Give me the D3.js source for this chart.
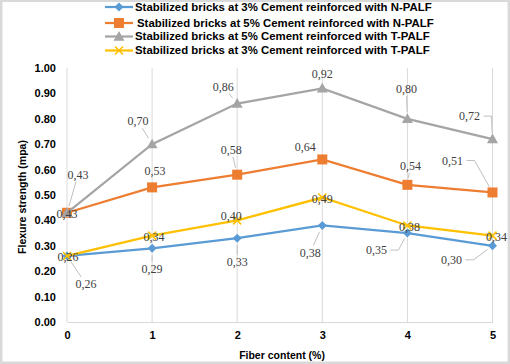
<!DOCTYPE html>
<html>
<head>
<meta charset="utf-8">
<script src="https://cdn.jsdelivr.net/npm/d3@7"></script>
<style>
  body { margin: 0; background: #fff; }
  svg { display: block; }
</style>
</head>
<body>
<div id="chart"></div>
<script>
// ---- data ----
const fiberContent = [0, 1, 2, 3, 4, 5];
const yTicks = [0, 0.1, 0.2, 0.3, 0.4, 0.5, 0.6, 0.7, 0.8, 0.9, 1.0];

const seriesNames = [
    "Stabilized bricks at 3% Cement reinforced with N-PALF",
    "Stabilized bricks at 5% Cement reinforced with N-PALF",
    "Stabilized bricks at 5% Cement reinforced with T-PALF",
    "Stabilized bricks at 3% Cement reinforced with T-PALF"
];
const n3Values = [0.26, 0.29, 0.33, 0.38, 0.35, 0.30];
const n5Values = [0.43, 0.53, 0.58, 0.64, 0.54, 0.51];
const t5Values = [0.43, 0.70, 0.86, 0.92, 0.80, 0.72];
const t3Values = [0.26, 0.34, 0.40, 0.49, 0.38, 0.34];

// ---- styling (label offsets from point, leader type) ----
const colors = ["#5B9BD5", "#ED7D31", "#A5A5A5", "#FFC000"];
const markers = ["diamond", "square", "triangle", "cross"];
const labelOffsets = [
    [[19, 28, "line"], [0, 20, "line"], [0, 24, "line"], [-12, 27, "line"], [-31, 17, "elbow"], [-41, 14, "elbow"]],
    [[0, 1, ""], [3, -17, ""], [-6, -25, "line"], [-17, -13, ""], [3, -19, "line"], [-40, -32, "elbow"]],
    [[11, -38, "line"], [-14, -23, "line"], [-14, -17, "line"], [0, -15, ""], [-1, -30, "line"], [-23, -23, "elbow"]],
    [[1, 1, ""], [2, 1, ""], [-6, -5, ""], [0, 1, ""], [2, 1, ""], [4, 1, ""]]
];

const width = 510, height = 364;
const margin = {top: 68, right: 17, bottom: 42, left: 67};

const svg = d3.select("#chart").append("svg")
    .attr("width", width)
    .attr("height", height);

// outer frame
svg.append("rect")
    .attr("x", 1.2).attr("y", 0.8)
    .attr("width", width - 2.4).attr("height", height - 2)
    .attr("fill", "none")
    .attr("stroke", "#d9d9d9")
    .attr("stroke-width", 2.5);

const x = d3.scaleLinear().domain([0, 5]).range([margin.left, width - margin.right - 0.5]);
const y = d3.scaleLinear().domain([0, 1]).range([height - margin.bottom, margin.top]);

// vertical gridlines
svg.append("g")
    .selectAll("line")
    .data(fiberContent)
    .join("line")
    .attr("x1", d => x(d)).attr("x2", d => x(d))
    .attr("y1", y(1)).attr("y2", y(0))
    .attr("stroke", "#d9d9d9")
    .attr("stroke-width", 1);

// x axis
const xAxis = svg.append("g")
    .attr("transform", `translate(0,${y(0)})`)
    .call(d3.axisBottom(x).tickValues(fiberContent).tickFormat(d3.format("d")).tickSize(0).tickPadding(9));
xAxis.select(".domain").attr("stroke", "#d9d9d9");
xAxis.selectAll("text")
    .attr("font-family", "Liberation Sans, Arial, sans-serif")
    .attr("font-weight", "bold")
    .attr("font-size", 11)
    .attr("fill", "#000");

// y axis
const yAxis = svg.append("g")
    .attr("transform", `translate(${margin.left},0)`)
    .call(d3.axisLeft(y).tickValues(yTicks).tickFormat(d3.format(".2f")).tickSize(0).tickPadding(11));
yAxis.select(".domain").remove();
yAxis.selectAll("text")
    .attr("font-family", "Liberation Sans, Arial, sans-serif")
    .attr("font-weight", "bold")
    .attr("font-size", 11)
    .attr("fill", "#000");

// axis titles
svg.append("text")
    .attr("x", 282).attr("y", 359)
    .attr("text-anchor", "middle")
    .attr("font-family", "Liberation Sans, Arial, sans-serif")
    .attr("font-weight", "bold")
    .attr("font-size", 10.5)
    .text("Fiber content (%)");

svg.append("text")
    .attr("transform", "translate(26,197) rotate(-90)")
    .attr("text-anchor", "middle")
    .attr("font-family", "Liberation Sans, Arial, sans-serif")
    .attr("font-weight", "bold")
    .attr("font-size", 10.5)
    .text("Flexure strength (mpa)");

// marker drawing
function drawMarker(g, type, color, cx, cy, s) {
    if (type === "diamond") {
        g.append("path")
            .attr("d", `M${cx},${cy - s}L${cx + s},${cy}L${cx},${cy + s}L${cx - s},${cy}Z`)
            .attr("fill", color);
    } else if (type === "square") {
        g.append("rect")
            .attr("x", cx - s).attr("y", cy - s)
            .attr("width", 2 * s).attr("height", 2 * s)
            .attr("fill", color);
    } else if (type === "triangle") {
        g.append("path")
            .attr("d", `M${cx},${cy - s}L${cx + s},${cy + s * 0.75}L${cx - s},${cy + s * 0.75}Z`)
            .attr("fill", color);
    } else {
        g.append("path")
            .attr("d", `M${cx - s},${cy - s}L${cx + s},${cy + s}M${cx + s},${cy - s}L${cx - s},${cy + s}`)
            .attr("stroke", color)
            .attr("stroke-width", 1.6);
    }
}
const markerSize = [4.5, 5, 5.5, 4];

const allSeries = [n3Values, n5Values, t5Values, t3Values];
const line = d3.line().x((d, i) => x(fiberContent[i])).y(d => y(d));
const fmt = v => d3.format(".2f")(v).replace(".", ",");

// draw order so grey/orange sit on top like the original
const drawOrder = [0, 3, 1, 2];
const plot = svg.append("g");
drawOrder.forEach(si => {
    const g = plot.append("g");
    g.append("path")
        .datum(allSeries[si])
        .attr("d", line)
        .attr("fill", "none")
        .attr("stroke", colors[si])
        .attr("stroke-width", 2.25);
    allSeries[si].forEach((v, i) => {
        drawMarker(g, markers[si], colors[si], x(fiberContent[i]), y(v), markerSize[si]);
    });
});

// data labels with leader lines
const labelLayer = svg.append("g");
drawOrder.forEach(si => {
    allSeries[si].forEach((v, i) => {
        const px = x(fiberContent[i]), py = y(v);
        const [dx, dy, leader] = labelOffsets[si][i];
        const lx = px + dx, ly = py + dy;
        const hw = 12, hh = 7;
        if (leader === "line") {
            // clip line at label box edge
            const t = Math.min(
                dx !== 0 ? hw / Math.abs(dx) : Infinity,
                dy !== 0 ? hh / Math.abs(dy) : Infinity
            );
            const sx = lx - dx * t, sy = ly - dy * t;
            const len = Math.hypot(dx, dy);
            const ex = px + dx / len * 7, ey = py + dy / len * 7;
            labelLayer.append("line")
                .attr("x1", sx).attr("y1", sy)
                .attr("x2", ex).attr("y2", ey)
                .attr("stroke", "#bfbfbf").attr("stroke-width", 1);
        } else if (leader === "elbow") {
            const sx = lx + hw + 2, kx = lx + hw + 10;
            const ddx = px - kx, ddy = py - ly;
            const len = Math.hypot(ddx, ddy);
            labelLayer.append("path")
                .attr("d", `M${sx},${ly}L${kx},${ly}L${px - ddx / len * 6},${py - ddy / len * 6}`)
                .attr("fill", "none")
                .attr("stroke", "#bfbfbf").attr("stroke-width", 1);
        }
        labelLayer.append("text")
            .attr("x", lx).attr("y", ly)
            .attr("dy", "0.35em")
            .attr("text-anchor", "middle")
            .attr("font-family", "Liberation Serif, Times New Roman, serif")
            .attr("font-size", 12)
            .attr("fill", "#404040")
            .text(fmt(v));
    });
});

// legend
const legendRows = [7, 23, 36.5, 50.5];
const legendTextX = [135, 137, 135, 135];
const legend = svg.append("g");
seriesNames.forEach((name, si) => {
    const ly = legendRows[si];
    legend.append("line")
        .attr("x1", 105).attr("x2", 133)
        .attr("y1", ly).attr("y2", ly)
        .attr("stroke", colors[si])
        .attr("stroke-width", 2.25);
    drawMarker(legend, markers[si], colors[si], 119, ly, markerSize[si]);
    legend.append("text")
        .attr("x", legendTextX[si]).attr("y", ly)
        .attr("dy", "0.35em")
        .attr("font-family", "Liberation Sans, Arial, sans-serif")
        .attr("font-weight", "bold")
        .attr("font-size", 11.4)
        .attr("fill", "#000")
        .text(name);
});
</script>
</body>
</html>
